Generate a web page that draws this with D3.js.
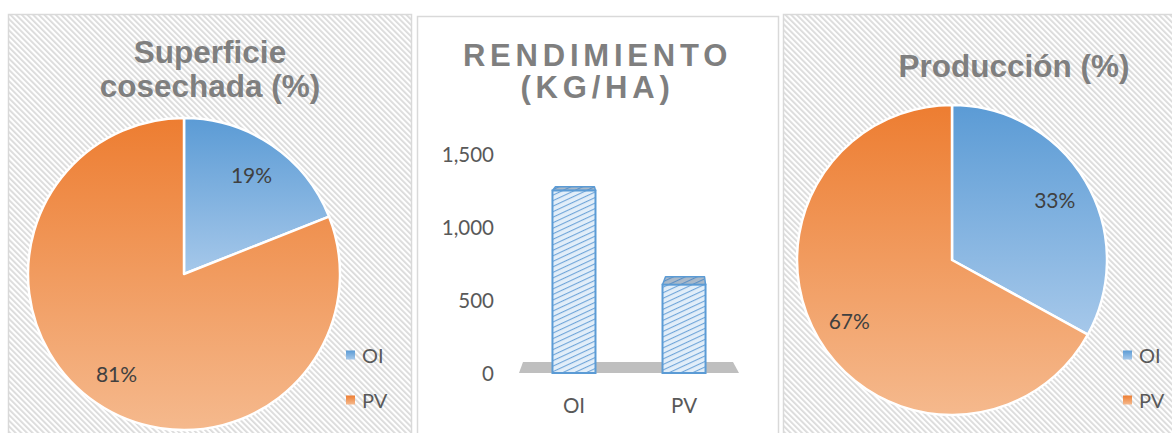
<!DOCTYPE html>
<html>
<head>
<meta charset="utf-8">
<script src="https://cdn.jsdelivr.net/npm/d3@7"></script>
<style>
  body { margin: 0; background: #fff; }
</style>
</head>
<body>
<script>
// data
const categories = ["OI", "PV"];
const superficiePct = [19, 81];
const produccionPct = [33, 67];
const rendimiento = [1250, 605];
const yTicks = [0, 500, 1000, 1500];

const width = 1172, height = 433;
const svg = d3.select("body").append("svg")
    .attr("width", width)
    .attr("height", height);
const defs = svg.append("defs");

// background hatch for the pie panels
const bg = defs.append("pattern")
    .attr("id", "bgHatch")
    .attr("width", 4).attr("height", 4)
    .attr("patternUnits", "userSpaceOnUse")
    .attr("patternTransform", "rotate(-45)");
bg.append("rect").attr("width", 4).attr("height", 4).attr("fill", "#fff");
bg.append("rect").attr("width", 1.8).attr("height", 4).attr("fill", "#dadada");

// hatch for bars
function barPattern(id, back, line) {
    const p = defs.append("pattern")
        .attr("id", id)
        .attr("width", 5).attr("height", 5)
        .attr("patternUnits", "userSpaceOnUse")
        .attr("patternTransform", "rotate(-25)");
    p.append("rect").attr("width", 5).attr("height", 5).attr("fill", back);
    p.append("rect").attr("width", 5).attr("height", 1.1).attr("fill", line);
}
barPattern("barHatch", "#e2eef9", "#6fa5d9");
barPattern("topHatch", "#a9b9ca", "#5b8fc4");

// slice gradients (top darker, bottom lighter)
const sliceColors = [["#5b9bd5", "#a6c8ea"], ["#ed7d31", "#f5b98d"]];
sliceColors.forEach((c, i) => {
    const g = defs.append("linearGradient")
        .attr("id", "grad" + i)
        .attr("x1", 0).attr("y1", 0).attr("x2", 0).attr("y2", 1);
    g.append("stop").attr("offset", 0).attr("stop-color", c[0]);
    g.append("stop").attr("offset", 1).attr("stop-color", c[1]);
});

// panels
const panels = [
    { x: 8.5, y: 14.5, w: 403, h: 440, fill: "url(#bgHatch)" },
    { x: 417.5, y: 16.5, w: 361, h: 440, fill: "#fff" },
    { x: 783.5, y: 14.5, w: 462, h: 440, fill: "url(#bgHatch)" }
];
svg.append("g").selectAll("rect")
    .data(panels)
    .join("rect")
    .attr("x", d => d.x).attr("y", d => d.y)
    .attr("width", d => d.w).attr("height", d => d.h)
    .attr("fill", d => d.fill)
    .attr("stroke", "#d9d9d9")
    .attr("stroke-width", 1.5);

const titleFont = "'Liberation Sans', Arial, sans-serif";
const labelFont = "Lato, 'Open Sans', sans-serif";

function drawPie(values, cx, cy, r, title, titleX, titleY, legendX) {
    const g = svg.append("g").attr("transform", `translate(${cx},${cy})`);
    const arcs = d3.pie().sort(null)(values);
    const arc = d3.arc().innerRadius(0).outerRadius(r);
    const labelArc = d3.arc().innerRadius(r * 0.77).outerRadius(r * 0.77);

    g.selectAll("path")
        .data(arcs)
        .join("path")
        .attr("d", arc)
        .attr("fill", (d, i) => `url(#grad${i})`)
        .attr("stroke", "#fff")
        .attr("stroke-width", 2.5)
        .attr("stroke-linejoin", "round");

    g.selectAll("text")
        .data(arcs)
        .join("text")
        .attr("transform", d => `translate(${labelArc.centroid(d)})`)
        .attr("text-anchor", "middle")
        .attr("dominant-baseline", "central")
        .attr("font-family", labelFont)
        .attr("font-size", 21)
        .attr("fill", "#404040")
        .text(d => d.data + "%");

    // title
    svg.append("g").selectAll("text")
        .data(title)
        .join("text")
        .attr("x", titleX)
        .attr("y", (d, i) => titleY + i * 34)
        .attr("text-anchor", "middle")
        .attr("font-family", titleFont)
        .attr("font-weight", "bold")
        .attr("font-size", 31.5)
        .attr("fill", "#7f7f7f")
        .text(d => d);

    // legend
    const leg = svg.append("g").selectAll("g")
        .data(categories)
        .join("g")
        .attr("transform", (d, i) => `translate(${legendX},${355 + i * 45})`);
    leg.append("rect")
        .attr("x", 0).attr("y", -4.5)
        .attr("width", 9).attr("height", 9)
        .attr("fill", (d, i) => `url(#grad${i})`);
    leg.append("text")
        .attr("x", 16)
        .attr("dominant-baseline", "central")
        .attr("font-family", labelFont)
        .attr("font-size", 20)
        .attr("fill", "#595959")
        .text(d => d);
}

drawPie(superficiePct, 184, 274, 156, ["Superficie", "cosechada (%)"], 210, 63, 346);
drawPie(produccionPct, 952, 260, 155, ["Producción (%)"], 1014, 77, 1123);

// bar chart
const y = d3.scaleLinear().domain([0, 1500]).range([373, 154]);
const x = d3.scaleBand().domain(categories).range([520, 738])
    .paddingInner(0.609).paddingOuter(0.295);

const bars = svg.append("g");

// 3D floor
const [fx0, fx1] = x.range();
const fy = y(0);
bars.append("polygon")
    .attr("points", [[fx0 + 3, fy - 11], [fx1 - 5, fy - 11], [fx1 + 1, fy], [fx0 - 1, fy]].join(" "))
    .attr("fill", "#bfbfbf");

// axis labels
bars.append("g").selectAll("text")
    .data(yTicks)
    .join("text")
    .attr("x", 494)
    .attr("y", d => y(d))
    .attr("text-anchor", "end")
    .attr("dominant-baseline", "central")
    .attr("font-family", labelFont)
    .attr("font-size", 20.5)
    .attr("fill", "#595959")
    .text(d3.format(","));

bars.append("g").selectAll("text")
    .data(categories)
    .join("text")
    .attr("x", d => x(d) + x.bandwidth() / 2)
    .attr("y", 405)
    .attr("text-anchor", "middle")
    .attr("dominant-baseline", "central")
    .attr("font-family", labelFont)
    .attr("font-size", 20.5)
    .attr("fill", "#595959")
    .text(d => d);

const bw = x.bandwidth();
const barG = bars.append("g").selectAll("g")
    .data(categories.map((c, i) => ({ c, v: rendimiento[i] })))
    .join("g");

barG.append("polygon")
    .attr("points", d => {
        const x0 = x(d.c), yv = y(d.v), dep = (yv - 110) / 22;
        return [[x0, yv], [x0 + bw, yv], [x0 + bw - 1, yv - dep], [x0 + 3, yv - dep]].join(" ");
    })
    .attr("fill", "url(#topHatch)")
    .attr("stroke", "#5b9bd5")
    .attr("stroke-width", 1.5)
    .attr("stroke-linejoin", "round");

barG.append("rect")
    .attr("x", d => x(d.c))
    .attr("y", d => y(d.v))
    .attr("width", bw)
    .attr("height", d => y(0) - y(d.v))
    .attr("fill", "url(#barHatch)")
    .attr("stroke", "#5b9bd5")
    .attr("stroke-width", 2);

// bar title
svg.append("g").selectAll("text")
    .data(["RENDIMIENTO", "(KG/HA)"])
    .join("text")
    .attr("x", 597.5)
    .attr("y", (d, i) => 66 + i * 32)
    .attr("text-anchor", "middle")
    .attr("font-family", titleFont)
    .attr("font-weight", "bold")
    .attr("font-size", 31)
    .attr("letter-spacing", 4.8)
    .attr("fill", "#7f7f7f")
    .text(d => d);
</script>
</body>
</html>
